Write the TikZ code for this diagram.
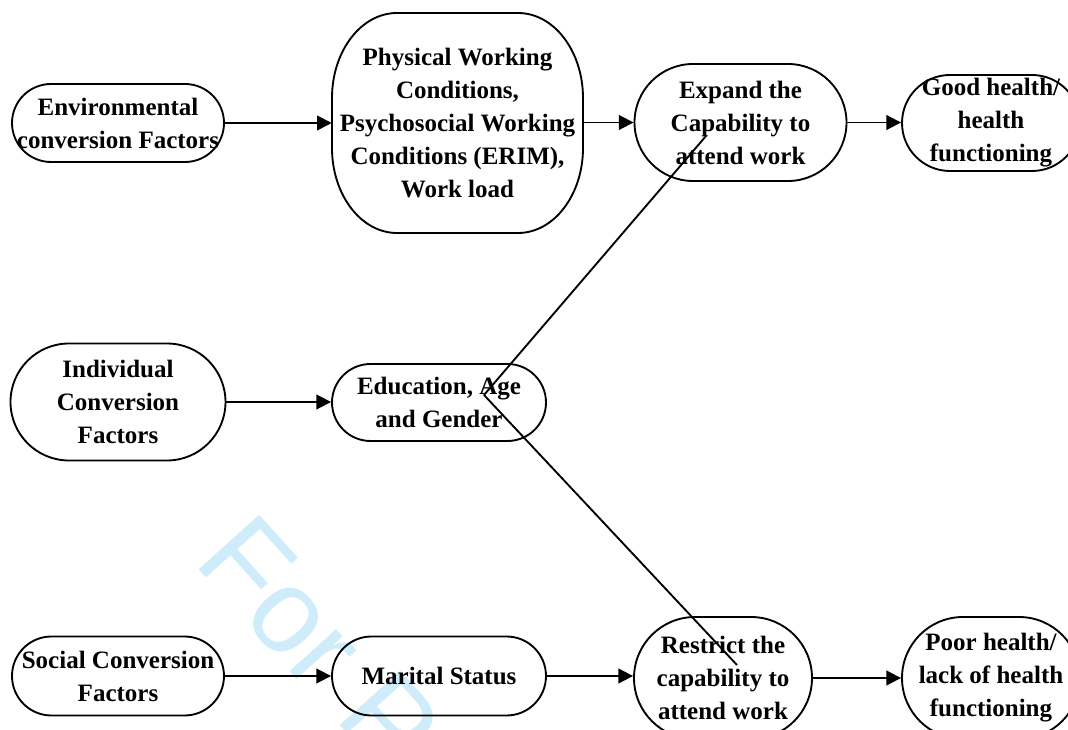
\documentclass[tikz,border=0pt]{standalone}
\usepackage{fontspec}
\setmainfont{Liberation Serif}
\newfontfamily\wmfont{Liberation Sans}
\usetikzlibrary{arrows.meta}
\definecolor{wm}{RGB}{206,236,250}
\begin{document}
\begin{tikzpicture}[x=0.75pt,y=-0.75pt,
  lbl/.style={align=center, inner sep=0pt, font=\fontsize{18.75}{24.75}\selectfont\bfseries},
  pill/.style={lbl, rectangle, draw, line width=1.4pt, rounded corners=#1},
  arr/.style={line width=1.4pt, -{Triangle[length=11pt,width=11pt]}},
  ln/.style={line width=1.4pt}]
\useasboundingbox (0,0) rectangle (1068,730);
\clip (0,0) rectangle (1068,730);
% watermark
\node[rotate=-48, anchor=base west, inner sep=0pt, text=wm, font=\wmfont\fontsize{89}{89}\selectfont] (wmark) at (192,562) {For Peer Review};
% nodes
\node[pill=29.25pt, minimum width=159pt, minimum height=58.5pt] (env) at (118,123) {Environmental\\conversion Factors};
\node[pill=43.9pt, minimum width=161.25pt, minimum height=87.75pt] (ind) at (118,402) {Individual\\Conversion\\Factors};
\node[pill=29.6pt, minimum width=159pt, minimum height=59.25pt] (soc) at (118,676) {Social Conversion\\Factors};
\node[lbl, rectangle, minimum width=188.25pt, minimum height=165pt] (phys) at (457.5,123) {Physical Working\\Conditions,\\Psychosocial Working\\Conditions (ERIM),\\Work load};
\draw[ln] (397,13) .. controls (361.1,13) and (332,51.1) .. (332,98) -- (332,148)
  .. controls (332,194.9) and (361.1,233) .. (397,233) -- (518,233)
  .. controls (553.9,233) and (583,194.9) .. (583,148) -- (583,98)
  .. controls (583,51.1) and (553.9,13) .. (518,13) -- cycle;
\node[pill=28.9pt, minimum width=160.5pt, minimum height=57.75pt] (edu) at (439,402.5) {Education, Age\\and Gender};
\node[pill=29.6pt, minimum width=160.5pt, minimum height=59.25pt] (mar) at (439,676) {Marital Status};
\node[pill=43.9pt, minimum width=159pt, minimum height=87.75pt] (exp) at (740.5,122.5) {Expand the\\Capability to\\attend work};
\node[pill=45.75pt, minimum width=133.5pt, minimum height=91.5pt] (res) at (723,678) {Restrict the\\capability to\\attend work};
\node[pill=36pt, minimum width=133.5pt, minimum height=72pt] (good) at (991,123) {Good health/\\health\\functioning};
\node[pill=45.75pt, minimum width=133.5pt, minimum height=91.5pt] (poor) at (991,678) {Poor health/\\lack of health\\functioning};
% arrows
\draw[arr] (env.east) -- (env.east -| phys.west);
\draw[arr] (phys.east |- exp.west) -- (exp.west);
\draw[arr] (exp.east) -- (exp.east -| good.west);
\draw[arr] (ind.east) -- (ind.east -| edu.west);
\draw[arr] (soc.east) -- (soc.east -| mar.west);
\draw[arr] (mar.east) -- (mar.east -| res.west);
\draw[arr] (res.east) -- (poor.west);
% diagonal links
\coordinate (edux) at (484,395);
\coordinate (expx) at (706,136);
\coordinate (resx) at (737,665);
\draw[ln] (edux) -- (expx);
\draw[ln] (edux) -- (resx);
\end{tikzpicture}
\end{document}
